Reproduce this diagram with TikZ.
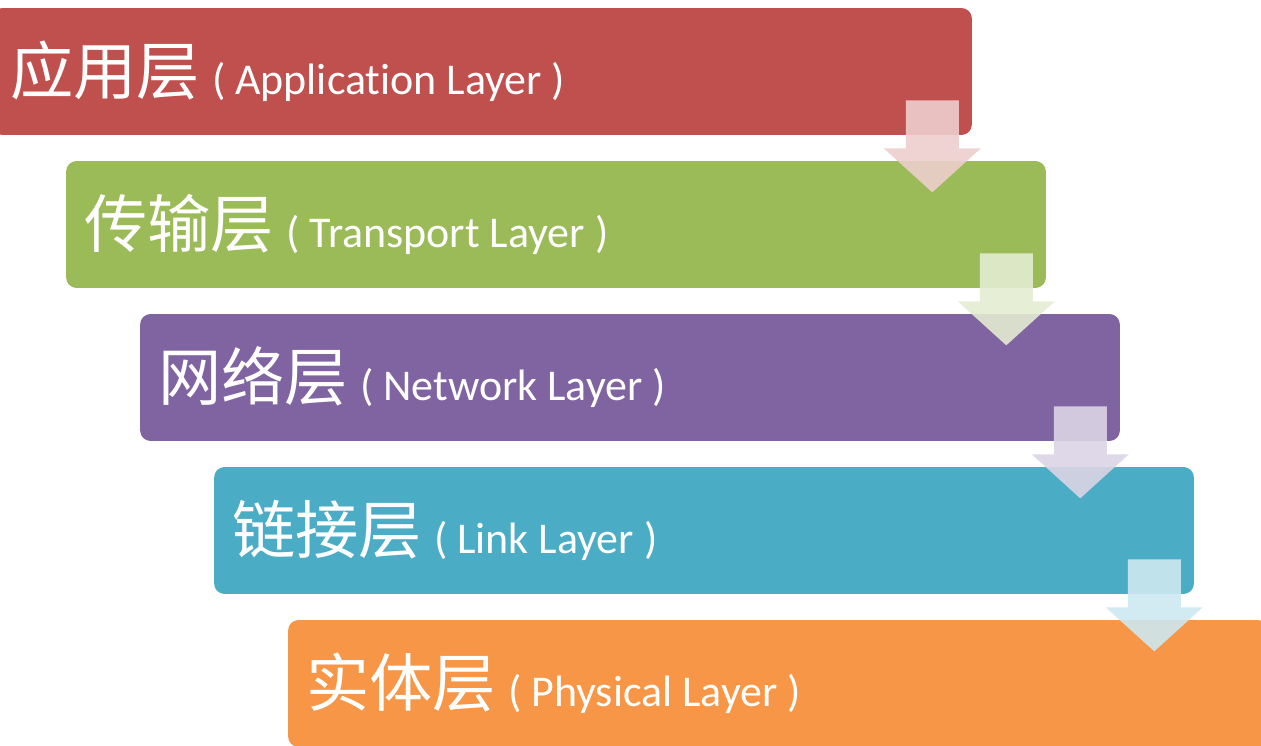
\documentclass[tikz,border=0pt]{standalone}
\usepackage{fontspec}
\setmainfont[Ligatures=NoCommon]{Carlito}
\newfontfamily\cjk{Noto Sans CJK SC}
\usepackage{tikz}
\usetikzlibrary{positioning,calc}
\definecolor{appRed}{HTML}{C0504D}
\definecolor{transGreen}{HTML}{9BBB59}
\definecolor{netPurple}{HTML}{8064A2}
\definecolor{linkBlue}{HTML}{4BACC6}
\definecolor{physOrange}{HTML}{F79646}

\begin{document}
\begin{tikzpicture}[x=0.02cm,y=-0.02cm,
      layer/.style={rounded corners=6pt,minimum width=19.6cm,minimum height=2.54cm,inner sep=0pt},
      label/.style={anchor=base west,text=white,inner sep=0pt},
      downarrow/.style={opacity=0.9}]
    \useasboundingbox (0,0) rectangle (1261,746);
    \clip (0,0) rectangle (1261,746);
    % the five layers, each shifted right and down
    \foreach \nm/\col/\k/\zh/\en in {app/appRed/0/应用层/Application Layer,
        trans/transGreen/1/传输层/Transport Layer,
        net/netPurple/2/网络层/Network Layer,
        link/linkBlue/3/链接层/Link Layer,
        phys/physOrange/4/实体层/Physical Layer}{
      \node[layer,fill=\col] (\nm) at (482+\k*74,71.5+\k*153) {};
      \node[label] (\nm Txt) at ($(\nm.west)+(18,23)$)
        {{\cjk\fontsize{36}{36}\selectfont \zh}\hspace{7pt}{\fontsize{25}{25}\selectfont ( \en\ )}};
    }
    % pale arrows between the layers
    \foreach \up/\col in {app/appRed,trans/transGreen,net/netPurple,link/linkBlue}{
      \fill[downarrow,fill=\col!28] ($(\up.south east)+(-66.5,-35)$) -- ($(\up.south east)+(-13.5,-35)$)
        -- ($(\up.south east)+(-13.5,13)$) -- ($(\up.south east)+(8.5,13)$)
        -- ($(\up.south east)+(-40,57)$) -- ($(\up.south east)+(-88.5,13)$)
        -- ($(\up.south east)+(-66.5,13)$) -- cycle;
    }
  \end{tikzpicture}
\end{document}
